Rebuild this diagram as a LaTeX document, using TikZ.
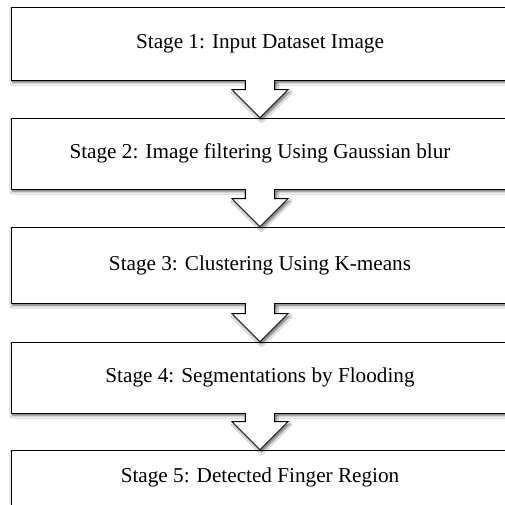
\documentclass[tikz,border=0pt]{standalone}
\usepackage{fontspec}
\setmainfont{Liberation Serif}
\usetikzlibrary{calc,shadows.blur}
\tikzset{
  stagebox/.style={draw=black, line width=0.8pt, fill=white, minimum width=498pt,
    inner sep=0pt, font=\fontsize{21.2}{25}\selectfont,
    blur shadow={shadow xshift=1.5pt, shadow yshift=-2.5pt, shadow blur steps=6, shadow blur radius=2.5pt, shadow opacity=60}},
  flowarr/.style={draw=black, line width=0.8pt, fill=white, line join=miter,
    blur shadow={shadow xshift=1.5pt, shadow yshift=-2.5pt, shadow blur steps=6, shadow blur radius=2.5pt, shadow opacity=60}}
}
\begin{document}
\begin{tikzpicture}[x=1pt,y=-1pt]
\useasboundingbox (0,0) rectangle (505,504);
\fill[white] (0,0) rectangle (505,504);
\node[stagebox, minimum height=73pt] (s1) at (260,43.5) {Stage 1: Input Dataset Image};
\node[stagebox, minimum height=71pt] (s2) at (260,153.5) {Stage 2: Image filtering Using Gaussian blur};
\node[stagebox, minimum height=76pt] (s3) at (260,265) {Stage 3: Clustering Using K-means};
\node[stagebox, minimum height=71pt] (s4) at (260,377.5) {Stage 4: Segmentations by Flooding};
\node[stagebox, minimum height=55pt] (s5) at (260,477.5) {Stage 5: Detected Finger Region};
\foreach \a/\b in {s1/s2,s2/s3,s3/s4,s4/s5}{
  \path[flowarr] ($(\a.south)+(-14.5,-0.4)$) -- ($(\b.north)+(-14.5,-28)$) -- ($(\b.north)+(-28,-28)$)
     -- (\b.north) -- ($(\b.north)+(28,-28)$) -- ($(\b.north)+(14.5,-28)$) -- ($(\a.south)+(14.5,-0.4)$);
}
\end{tikzpicture}
\end{document}
